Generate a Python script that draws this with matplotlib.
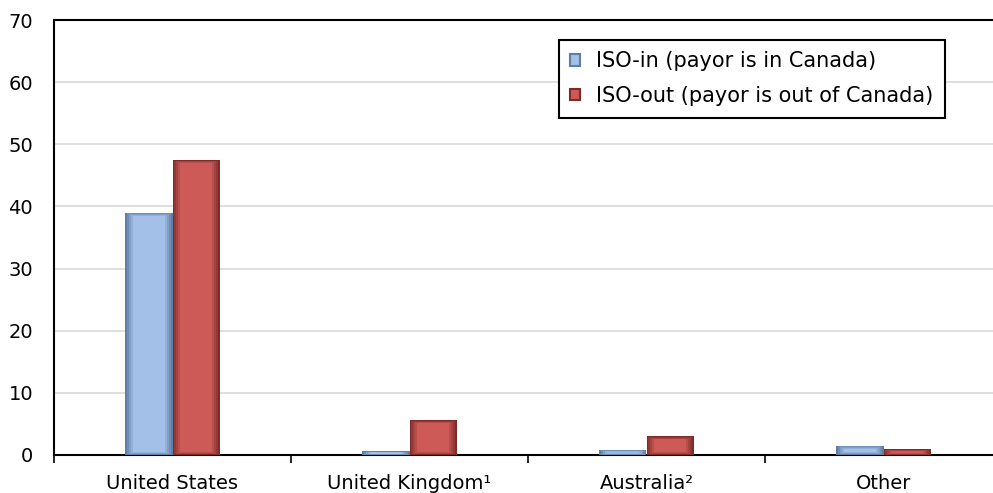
import matplotlib.pyplot as plt
import numpy as np
from matplotlib.patches import Patch
from matplotlib.colors import to_rgb

countries = ["United States", "United Kingdom\u00b9", "Australia\u00b2", "Other"]
iso_in = [39.0, 0.6, 0.8, 1.5]
iso_out = [47.5, 5.6, 3.0, 0.9]
series_labels = ["ISO-in (payor is in Canada)", "ISO-out (payor is out of Canada)"]

# (edge shade, face shade) for the bevelled bars
blue = ("#5f7ea6", "#a3c1e8")
red = ("#7e2c2a", "#cd5a57")

plt.rcParams["font.family"] = ["DejaVu Sans"]

fig = plt.figure(figsize=(9.93, 4.93), dpi=100)
ax = fig.add_axes([54 / 993, 38 / 493, 948 / 993, 435 / 493])

x = np.arange(len(countries))
w = 0.2


def bevel_bars(xpos, values, shades):
    # stack a few inset bars, dark at the rim fading to the face colour
    dark, light = np.array(to_rgb(shades[0])), np.array(to_rgb(shades[1]))
    vals = np.array(values)
    steps = 4
    for i in range(steps + 1):
        t = i / steps
        col = dark * (1 - t) + light * t
        inset = np.minimum(0.12 * i, vals * 0.08 * i)
        ax.bar(xpos, vals - 2 * inset, width=w * (1 - 0.08 * i), bottom=inset,
               color=col, edgecolor="none", zorder=3 + i)


bevel_bars(x - w / 2, iso_in, blue)
bevel_bars(x + w / 2, iso_out, red)

ax.set_xlim(-0.5, len(countries) - 0.5)
ax.set_ylim(0, 70)
ax.set_yticks(range(0, 71, 10))
ax.tick_params(axis="y", length=0, pad=15, labelsize=14)
ax.yaxis.grid(True, color="#d9d9d9", linewidth=1.2, zorder=0)
ax.set_axisbelow(True)

# boundary ticks between categories, labels centred underneath
ax.set_xticks(np.arange(-0.5, len(countries), 1.0))
ax.set_xticklabels([])
ax.set_xticks(x, minor=True)
ax.set_xticklabels(countries, minor=True)
ax.tick_params(axis="x", which="major", length=6, width=1.2, color="black")
ax.tick_params(axis="x", which="minor", length=0, pad=14, labelsize=14)

for side in ["left", "top", "bottom"]:
    ax.spines[side].set_linewidth(1.5)
    ax.spines[side].set_color("black")
ax.spines["right"].set_visible(False)

handles = [Patch(facecolor=blue[1], edgecolor=blue[0], linewidth=1.5),
           Patch(facecolor=red[1], edgecolor=red[0], linewidth=1.5)]
leg = ax.legend(handles, series_labels, loc="upper left",
                bbox_to_anchor=((559 - 54) / 948, 1 - (40 - 20) / 435),
                borderaxespad=0, fontsize=15,
                frameon=True, fancybox=False, edgecolor="black",
                handlelength=0.45, handleheight=0.45, handletextpad=0.8,
                borderpad=0.55, labelspacing=0.7, framealpha=1)
leg.get_frame().set_linewidth(1.5)

fig.savefig("out.png", dpi=100)
